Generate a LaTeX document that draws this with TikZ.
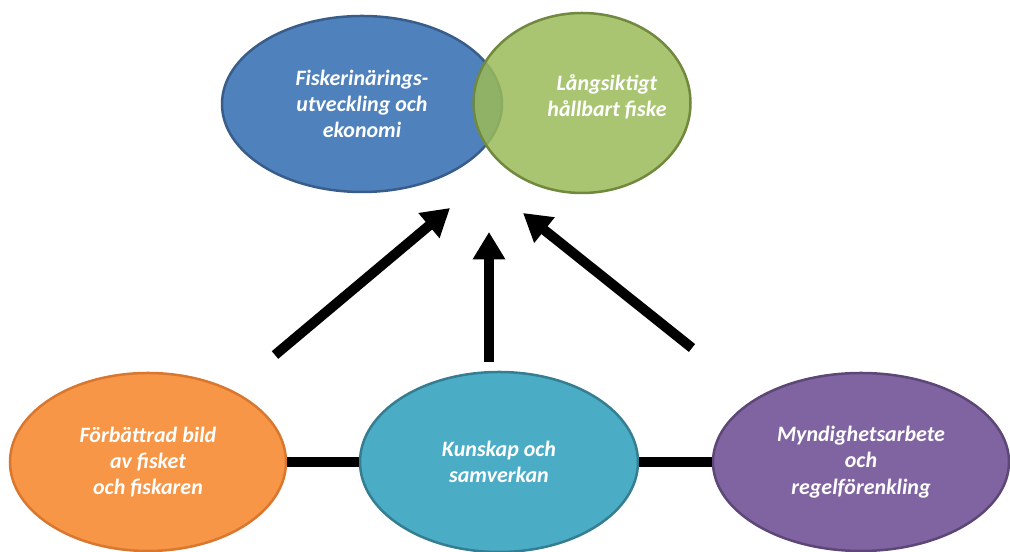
\documentclass[tikz,border=0pt]{standalone}
\usepackage{fontspec}
\setmainfont{Carlito}
\usetikzlibrary{positioning,
        shapes,
        arrows.meta}
\usepackage{xcolor}
\definecolor{blueFill}{HTML}{4F81BD}
\definecolor{blueLine}{HTML}{385D8A}
\definecolor{greenFill}{HTML}{9BBB59}
\definecolor{greenLine}{HTML}{71893F}
\definecolor{orangeFill}{HTML}{F79646}
\definecolor{orangeLine}{HTML}{D9772F}
\definecolor{aquaFill}{HTML}{4BACC6}
\definecolor{aquaLine}{HTML}{357D91}
\definecolor{purpleFill}{HTML}{8064A2}
\definecolor{purpleLine}{HTML}{5C4776}

\begin{document}
\begin{tikzpicture}[
        blob/.style={ellipse,draw,line width=0.05cm,inner sep=0pt},
        btext/.style={align=center,text=white,font=\fontsize{12.5}{15}\selectfont\bfseries\itshape},
        bar/.style={line width=0.2cm},
        pil/.style={line width=0.2cm,-{Triangle[width=0.62cm,length=0.55cm]}}]
            \useasboundingbox (0,0) rectangle (20.2,11.04);
            \node [blob,fill=blueFill,draw=blueLine,minimum width=5.6cm,minimum height=3.52cm,btext] (utveckling) at (7.24,8.96) {Fiskerinärings-\\utveckling och\\ekonomi};
            \node [blob,fill=greenFill,fill opacity=0.85,draw=greenLine,minimum width=4.34cm,minimum height=3.6cm] (hallbart) at (11.64,8.98) {};
            \node [btext] (hallbart-txt) at (12.14,9.1) {Långsiktigt\\hållbart fiske};
            \node [blob,fill=orangeFill,draw=orangeLine,minimum width=5.52cm,minimum height=3.56cm,btext] (bild) at (2.96,1.8) {Förbättrad bild\\av fisket\\och fiskaren};
            \node [blob,fill=aquaFill,draw=aquaLine,minimum width=5.56cm,minimum height=3.6cm,btext] (kunskap) at (9.98,1.8) {Kunskap och\\samverkan};
            \node [blob,fill=purpleFill,draw=purpleLine,minimum width=5.92cm,minimum height=3.56cm,btext] (myndighet) at (17.22,1.8) {Myndighetsarbete\\och\\regelförenkling};

            \coordinate (l-start) at (5.5,3.94);
            \coordinate (l-end) at (9.0,6.88);
            \coordinate (m-start) at (9.78,3.8);
            \coordinate (m-end) at (9.78,6.4);
            \coordinate (r-start) at (13.84,4.08);
            \coordinate (r-end) at (10.46,6.78);

            \draw [bar] (bild.east) -- (kunskap.west);
            \draw [bar] (kunskap.east) -- (myndighet.west);
            \draw [pil] (l-start) -- (l-end);
            \draw [pil] (m-start) -- (m-end);
            \draw [pil] (r-start) -- (r-end);
        \end{tikzpicture}
\end{document}
